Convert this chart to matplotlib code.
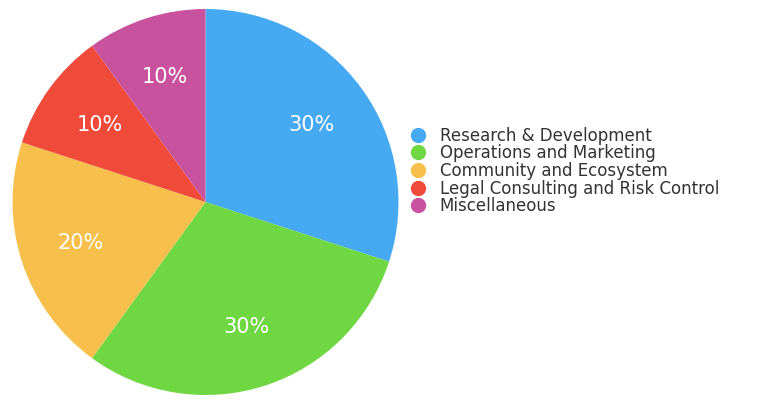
import matplotlib.pyplot as plt
from matplotlib.lines import Line2D

categories = ['Research & Development', 'Operations and Marketing',
              'Community and Ecosystem', 'Legal Consulting and Risk Control',
              'Miscellaneous']
shares = [30, 30, 20, 10, 10]
colors = ['#45aaf2', '#6fd742', '#f7c04c', '#f04b3a', '#c9529f']

plt.rcParams['font.family'] = ['DejaVu Sans']

fig = plt.figure(figsize=(7.69, 4.01), dpi=100)
ax = fig.add_axes([12.5 / 769, 1 - 395 / 401, 386 / 769, 386 / 401])

wedges, texts, autotexts = ax.pie(
    shares, colors=colors, startangle=90, counterclock=False,
    autopct='%d%%', pctdistance=0.68, radius=1,
    textprops={'color': 'white', 'fontsize': 15})
ax.set_xlim(-1, 1)
ax.set_ylim(-1, 1)
ax.set_aspect('equal')

handles = [Line2D([], [], marker='o', linestyle='none', markersize=10,
                  markerfacecolor=c, markeredgecolor=c) for c in colors]
fig.legend(handles, categories, loc='upper left',
           bbox_to_anchor=(0.522, 0.705), frameon=False, fontsize=12,
           handletextpad=0.8, labelspacing=-0.02, handlelength=1.0,
           borderpad=0, labelcolor='#333333')

fig.savefig('out.png', dpi=100)
